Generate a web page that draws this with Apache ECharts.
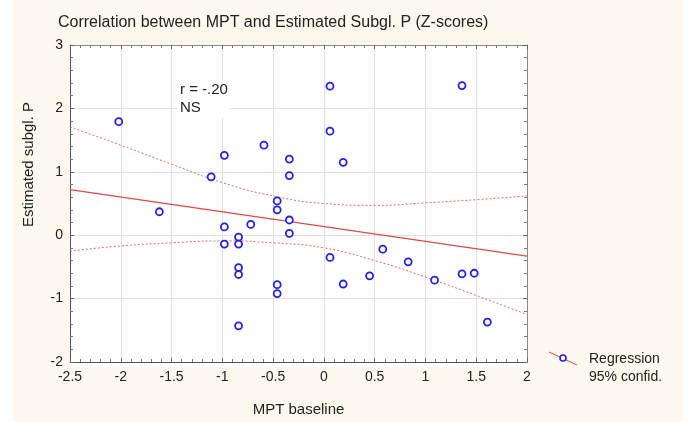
<!DOCTYPE html>
<html>
<head>
<meta charset="utf-8">
<script src="https://cdn.jsdelivr.net/npm/echarts@6/dist/echarts.min.js"></script>
<style>
  html, body { margin: 0; padding: 0; background: #fff; }
  #chart { width: 689px; height: 422px; }
</style>
</head>
<body>
<div id="chart"></div>
<script>
// scatter points (MPT baseline, estimated subgl. P)
const mptX = [
  -2.02, -0.59, -0.98, -0.34, -1.11, -0.34, -0.46, -0.46, -1.62, -0.34,
  -0.98, -0.72, -0.34, -0.84, -0.98, -0.84, -0.84, -0.84, -0.46, -0.46, -0.84,
  0.06, 1.36, 0.06, 0.19,
  0.06, 0.19, 0.45, 0.58, 0.83, 1.09, 1.36, 1.48, 1.61
]
const subglY = [
  1.79, 1.42, 1.26, 1.20, 0.92, 0.94, 0.54, 0.40, 0.37, 0.24,
  0.13, 0.17, 0.03, -0.03, -0.14, -0.14, -0.51, -0.62, -0.78, -0.92, -1.43,
  2.35, 2.36, 1.64, 1.15,
  -0.35, -0.77, -0.64, -0.22, -0.42, -0.71, -0.61, -0.60, -1.37
]

// regression line ends
const regX = [-2.5, 2]
const regY = [0.72, -0.33]

// 95% confidence band read along x
const bandX = [-2.5, -2, -1.5, -1, -0.5, 0, 0.5, 1, 1.5, 2]
const upperY = [1.71, 1.42, 1.12, 0.83, 0.62, 0.50, 0.47, 0.51, 0.56, 0.62]
const lowerY = [-0.25, -0.17, -0.12, -0.09, -0.12, -0.20, -0.40, -0.66, -0.95, -1.25]

const xTicks = { min: -2.5, max: 2, interval: 0.5 }
const yTicks = { min: -2, max: 3, interval: 1 }

const zip = (a, b) => a.map((v, i) => [v, b[i]])

const font = 'Liberation Sans, Arial, sans-serif'
const bg = '#fcf8ee'

const chart = echarts.init(document.getElementById('chart'))

const baseX = {
  type: 'value',
  min: xTicks.min,
  max: xTicks.max,
  interval: xTicks.interval,
  axisLine: { show: true, onZero: false, lineStyle: { color: '#555', width: 1 } },
  axisTick: { show: true, inside: true, length: 4, lineStyle: { color: '#666' } },
  minorTick: { show: true, splitNumber: 5, length: 3, lineStyle: { color: '#777' } }
}
const baseY = {
  type: 'value',
  min: yTicks.min,
  max: yTicks.max,
  interval: yTicks.interval,
  axisLine: { show: true, onZero: false, lineStyle: { color: '#555', width: 1 } },
  axisTick: { show: true, inside: true, length: 4, lineStyle: { color: '#666' } },
  minorTick: { show: true, splitNumber: 5, length: 3, lineStyle: { color: '#777' } }
}

chart.setOption({
  animation: false,
  backgroundColor: '#fff',
  title: {
    text: 'Correlation between MPT and Estimated Subgl. P (Z-scores)',
    left: 53,
    top: 10,
    textStyle: { fontFamily: font, fontSize: 16, fontWeight: 'normal', color: '#222' }
  },
  grid: { left: 70, top: 45, width: 457, height: 322 },
  xAxis: [
    Object.assign({}, baseX, {
      position: 'bottom',
      name: 'MPT baseline',
      nameLocation: 'middle',
      nameGap: 40,
      nameTextStyle: { fontFamily: font, fontSize: 15, color: '#222' },
      axisLabel: { fontFamily: font, fontSize: 14, color: '#222', margin: 8 },
      splitLine: { show: true, lineStyle: { color: '#e0e0e0' } }
    }),
    Object.assign({}, baseX, {
      position: 'top',
      axisLine: { show: true, onZero: false, lineStyle: { color: '#888' } },
      axisLabel: { show: false },
      splitLine: { show: false }
    })
  ],
  yAxis: [
    Object.assign({}, baseY, {
      position: 'left',
      axisLabel: { fontFamily: font, fontSize: 14, color: '#222', margin: 7 },
      splitLine: { show: true, lineStyle: { color: '#e0e0e0' } }
    }),
    Object.assign({}, baseY, {
      position: 'right',
      axisLine: { show: true, onZero: false, lineStyle: { color: '#888' } },
      axisLabel: { show: false },
      splitLine: { show: false }
    })
  ],
  graphic: [
    // cream page background with a thin white margin on the left
    { type: 'rect', z: -10, silent: true, shape: { x: 13, y: 0, width: 670, height: 422 }, style: { fill: bg } },
    // white plot area
    { type: 'rect', z: -9, silent: true, shape: { x: 70, y: 45, width: 457, height: 322 }, style: { fill: '#fff' } },
    {
      type: 'text', left: 21, top: 102, rotation: Math.PI / 2,
      style: { text: 'Estimated subgl. P', font: '15px ' + font, fill: '#222' }
    },
    {
      type: 'text', left: 178, top: 80, z: 10,
      style: {
        text: 'r = -.20\nNS', font: '15px ' + font, fill: '#222', lineHeight: 18,
        backgroundColor: '#fff', padding: [1, 2, 1, 2]
      }
    },
    // legend
    { type: 'line', shape: { x1: 549, y1: 352, x2: 577, y2: 365 }, style: { stroke: '#e04848', lineWidth: 1 } },
    { type: 'circle', shape: { cx: 563, cy: 358, r: 3 }, style: { fill: '#fff', stroke: '#2222e0', lineWidth: 1.6 } },
    {
      type: 'text', left: 589, top: 350,
      style: { text: 'Regression\n95% confid.', font: '14px ' + font, fill: '#222', lineHeight: 18 }
    }
  ],
  series: [
    {
      name: 'upper',
      type: 'line',
      data: zip(bandX, upperY),
      smooth: true,
      symbol: 'none',
      lineStyle: { color: '#e06878', width: 1, type: [2, 2] },
      z: 2
    },
    {
      name: 'lower',
      type: 'line',
      data: zip(bandX, lowerY),
      smooth: true,
      symbol: 'none',
      lineStyle: { color: '#e06878', width: 1, type: [2, 2] },
      z: 2
    },
    {
      name: 'Regression',
      type: 'line',
      data: zip(regX, regY),
      symbol: 'none',
      lineStyle: { color: '#e04848', width: 1.2 },
      z: 3
    },
    {
      name: 'points',
      type: 'scatter',
      data: zip(mptX, subglY),
      symbol: 'circle',
      symbolSize: 7,
      itemStyle: { color: '#fff', borderColor: '#2222e0', borderWidth: 1.8, opacity: 1 },
      z: 5
    }
  ]
})
</script>
</body>
</html>
